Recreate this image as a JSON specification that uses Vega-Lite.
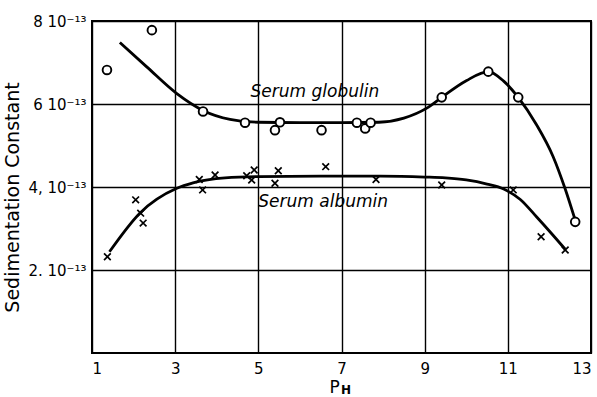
{
  "$schema": "https://vega.github.io/schema/vega-lite/v6.json",
  "width": 499,
  "height": 332,
  "autosize": {"type": "none"},
  "padding": {"left": 92, "top": 21, "right": 6, "bottom": 44},
  "background": "white",
  "config": {
    "view": {"stroke": "black", "strokeWidth": 2},
    "font": "DejaVu Sans",
    "axis": {
      "grid": true, "gridColor": "black", "gridOpacity": 1, "gridWidth": 1.4,
      "domain": false, "ticks": false,
      "labelColor": "black", "labelFont": "DejaVu Sans", "labelFontSize": 15,
      "titleColor": "black", "titleFont": "DejaVu Sans", "titleFontWeight": "normal"
    }
  },
  "datasets": {
    "obs": [
      {"series": "globulin", "pH": 1.36, "s": 6.82},
      {"series": "globulin", "pH": 2.44, "s": 7.78},
      {"series": "globulin", "pH": 3.67, "s": 5.82},
      {"series": "globulin", "pH": 4.68, "s": 5.55},
      {"series": "globulin", "pH": 5.52, "s": 5.56},
      {"series": "globulin", "pH": 5.40, "s": 5.37},
      {"series": "globulin", "pH": 6.52, "s": 5.37},
      {"series": "globulin", "pH": 7.37, "s": 5.55},
      {"series": "globulin", "pH": 7.57, "s": 5.41},
      {"series": "globulin", "pH": 7.70, "s": 5.55},
      {"series": "globulin", "pH": 9.41, "s": 6.16},
      {"series": "globulin", "pH": 10.53, "s": 6.78},
      {"series": "globulin", "pH": 11.25, "s": 6.16},
      {"series": "globulin", "pH": 12.62, "s": 3.16},
      {"series": "albumin", "pH": 1.37, "s": 2.32},
      {"series": "albumin", "pH": 2.05, "s": 3.69},
      {"series": "albumin", "pH": 2.17, "s": 3.37},
      {"series": "albumin", "pH": 2.23, "s": 3.13},
      {"series": "albumin", "pH": 3.58, "s": 4.18},
      {"series": "albumin", "pH": 3.66, "s": 3.93},
      {"series": "albumin", "pH": 3.96, "s": 4.29},
      {"series": "albumin", "pH": 4.72, "s": 4.27},
      {"series": "albumin", "pH": 4.90, "s": 4.41},
      {"series": "albumin", "pH": 4.84, "s": 4.17},
      {"series": "albumin", "pH": 5.48, "s": 4.39},
      {"series": "albumin", "pH": 5.40, "s": 4.09},
      {"series": "albumin", "pH": 6.62, "s": 4.49},
      {"series": "albumin", "pH": 7.83, "s": 4.18},
      {"series": "albumin", "pH": 9.41, "s": 4.05},
      {"series": "albumin", "pH": 11.13, "s": 3.93},
      {"series": "albumin", "pH": 11.80, "s": 2.80},
      {"series": "albumin", "pH": 12.38, "s": 2.48}
    ],
    "curves": [
      {"series": "globulin", "pH": 1.67, "s": 7.48},
      {"series": "globulin", "pH": 2.31, "s": 6.90},
      {"series": "globulin", "pH": 3.04, "s": 6.25},
      {"series": "globulin", "pH": 3.68, "s": 5.84},
      {"series": "globulin", "pH": 4.32, "s": 5.63},
      {"series": "globulin", "pH": 5.0, "s": 5.56},
      {"series": "globulin", "pH": 6.0, "s": 5.55},
      {"series": "globulin", "pH": 7.0, "s": 5.55},
      {"series": "globulin", "pH": 7.9, "s": 5.56},
      {"series": "globulin", "pH": 8.5, "s": 5.66},
      {"series": "globulin", "pH": 9.05, "s": 5.9},
      {"series": "globulin", "pH": 9.41, "s": 6.16},
      {"series": "globulin", "pH": 10.0, "s": 6.56},
      {"series": "globulin", "pH": 10.53, "s": 6.78},
      {"series": "globulin", "pH": 10.9, "s": 6.55},
      {"series": "globulin", "pH": 11.25, "s": 6.16},
      {"series": "globulin", "pH": 11.69, "s": 5.5},
      {"series": "globulin", "pH": 12.09, "s": 4.73},
      {"series": "globulin", "pH": 12.38, "s": 3.95},
      {"series": "globulin", "pH": 12.62, "s": 3.2},
      {"series": "albumin", "pH": 1.42, "s": 2.44},
      {"series": "albumin", "pH": 2.15, "s": 3.37},
      {"series": "albumin", "pH": 3.04, "s": 3.97},
      {"series": "albumin", "pH": 3.43, "s": 4.10},
      {"series": "albumin", "pH": 4.2, "s": 4.22},
      {"series": "albumin", "pH": 5.0, "s": 4.25},
      {"series": "albumin", "pH": 6.5, "s": 4.26},
      {"series": "albumin", "pH": 7.93, "s": 4.26},
      {"series": "albumin", "pH": 9.0, "s": 4.24},
      {"series": "albumin", "pH": 9.5, "s": 4.22},
      {"series": "albumin", "pH": 10.0, "s": 4.17},
      {"series": "albumin", "pH": 10.5, "s": 4.07},
      {"series": "albumin", "pH": 10.9, "s": 3.95},
      {"series": "albumin", "pH": 11.3, "s": 3.7},
      {"series": "albumin", "pH": 11.7, "s": 3.27},
      {"series": "albumin", "pH": 12.05, "s": 2.88},
      {"series": "albumin", "pH": 12.38, "s": 2.5}
    ],
    "labels": [
      {"pH": 6.36, "s": 6.28, "text": "Serum globulin"},
      {"pH": 6.56, "s": 3.64, "text": "Serum albumin"}
    ],
    "sub": [
      {"pH": 7.11, "s": -0.88, "text": "H"}
    ]
  },
  "encoding": {
    "x": {
      "field": "pH", "type": "quantitative",
      "scale": {"domain": [1, 13], "nice": false, "zero": false},
      "axis": {
        "values": [1, 3, 5, 7, 9, 11, 13], "labelPadding": 8,
        "title": "P", "titleFontSize": 17, "titleX": 242, "titleY": 26, "titleBaseline": "top"
      }
    },
    "y": {
      "field": "s", "type": "quantitative",
      "scale": {"domain": [0, 8], "nice": false},
      "axis": {
        "values": [2, 4, 6, 8], "labelPadding": 6,
        "labelExpr": "datum.value == 8 ? '8 10⁻¹³' : datum.value == 6 ? '6 10⁻¹³' : datum.value == 4 ? '4, 10⁻¹³' : '2. 10⁻¹³'",
        "title": "Sedimentation Constant", "titleFontSize": 19, "titlePadding": 5, "titleY": 176
      }
    }
  },
  "layer": [
    {
      "data": {"name": "curves"},
      "mark": {"type": "line", "interpolate": "monotone", "color": "black", "strokeWidth": 2.8},
      "encoding": {"detail": {"field": "series"}}
    },
    {
      "data": {"name": "obs"},
      "transform": [{"filter": "datum.series == 'globulin'"}],
      "mark": {"type": "point", "shape": "circle", "size": 75, "filled": true, "fill": "white", "stroke": "black", "strokeWidth": 1.9, "opacity": 1}
    },
    {
      "data": {"name": "obs"},
      "transform": [{"filter": "datum.series == 'albumin'"}],
      "mark": {"type": "point", "shape": "M-1,-1L1,1M-1,1L1,-1", "size": 45, "stroke": "black", "strokeWidth": 1.7, "opacity": 1}
    },
    {
      "data": {"name": "labels"},
      "mark": {"type": "text", "font": "DejaVu Sans", "fontStyle": "italic", "fontSize": 17, "color": "black", "baseline": "middle", "align": "center"},
      "encoding": {"text": {"field": "text"}}
    },
    {
      "data": {"name": "sub"},
      "mark": {"type": "text", "font": "DejaVu Sans", "fontSize": 12, "fontWeight": "bold", "color": "black", "baseline": "middle", "align": "center"},
      "encoding": {"text": {"field": "text"}}
    }
  ]
}
